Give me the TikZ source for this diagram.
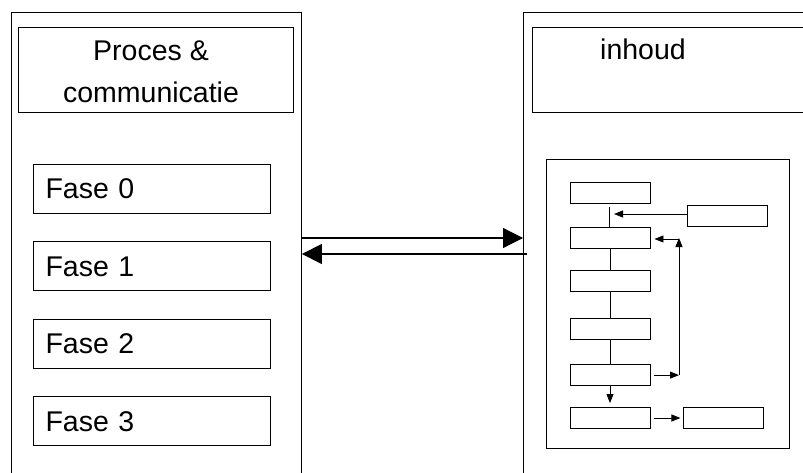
\documentclass[tikz,border=0pt]{standalone}
\usepackage{fontspec}
\setmainfont{Liberation Sans}
\usetikzlibrary{positioning}
\usetikzlibrary{arrows.meta}

\begin{document}
\begin{tikzpicture}[x=1pt, y=-1pt, line width=0.9pt,
    >={Triangle[length=9pt, width=7pt]},
    every node/.style={font=\fontsize{28.5}{42}\selectfont},
    paneel/.style={draw, minimum width=290pt, minimum height=480pt, inner sep=0pt},
    kop/.style={draw, minimum width=275pt, minimum height=85pt, inner sep=0pt},
    fase/.style={draw, minimum height=49pt, text width=212pt, inner xsep=12.5pt, inner ysep=0pt, align=left},
    stap/.style={draw, minimum width=80pt, minimum height=21pt, inner sep=0pt},
    groot/.style={-{Triangle[length=20pt, width=20pt]}, line width=1.2pt}]
    \useasboundingbox (0,0) rectangle (803,473);

    % twee panelen, onderkant valt buiten beeld
    \node[paneel, anchor=north west] (links) at (11,12) {};
    \node[paneel, anchor=north west] (rechts) at (523,12) {};

    % links: proces
    \node[kop] (proces) at (155.5,69.5) {};
    \node[align=center, anchor=north, inner sep=0pt] (procestekst) at (151,40.5) {Proces \&\\communicatie};
    \node[fase] (fase0) at (151.5,189) {Fase 0};
    \node[fase, below=27.5pt of fase0] (fase1) {Fase 1};
    \node[fase, below=27.5pt of fase1] (fase2) {Fase 2};
    \node[fase, below=27.5pt of fase2] (fase3) {Fase 3};

    % rechts: inhoud
    \node[kop] (inhoud) at (669.5,69.5) {};
    \node[anchor=base] (inhoudtekst) at (643,60) {inhoud};
    \node[draw, minimum width=243pt, minimum height=289pt, inner sep=0pt] (kader) at (667.5,303.5) {};

    \node[stap] (stap0) at (610,192.5) {};
    \node[stap, below=24pt of stap0] (stap1) {};
    \node[stap, below=21pt of stap1] (stap2) {};
    \node[stap, below=26pt of stap2] (stap3) {};
    \node[stap, below=24pt of stap3] (stap4) {};
    \node[stap, below=21pt of stap4] (stap5) {};
    \node[stap] (invoer) at (727,215.5) {};
    \node[stap, right=33pt of stap5] (uitvoer) {};

    \coordinate (inloop) at (609,207);
    \coordinate (inpijl) at (614,214);
    \coordinate (hoek) at (679,239);
    \draw (inloop) -- (inloop |- stap1.north);
    \draw[->] (invoer.west |- inpijl) -- (inpijl);
    \draw (stap1) -- (stap2);
    \draw (stap2) -- (stap3);
    \draw (stap3) -- (stap4);
    \draw[->, shorten >=4pt] (stap4) -- (stap5);
    \draw[->, shorten <=4pt] (stap4.east) -- (stap4.east -| hoek);
    \draw[->, shorten >=-1pt] (stap4.east -| hoek) -- (hoek);
    \draw[->, shorten >=4pt] (hoek) -- (hoek -| stap1.east);
    \draw[->, shorten <=4pt, shorten >=3pt] (stap5) -- (uitvoer);

    % heen en terug tussen de panelen
    \coordinate (heen) at (0,238);
    \coordinate (terug) at (0,254);
    \draw[groot] (links.east |- heen) -- (rechts.west |- heen);
    \draw[groot, shorten <=-4pt] (rechts.west |- terug) -- (links.east |- terug);
\end{tikzpicture}
\end{document}
